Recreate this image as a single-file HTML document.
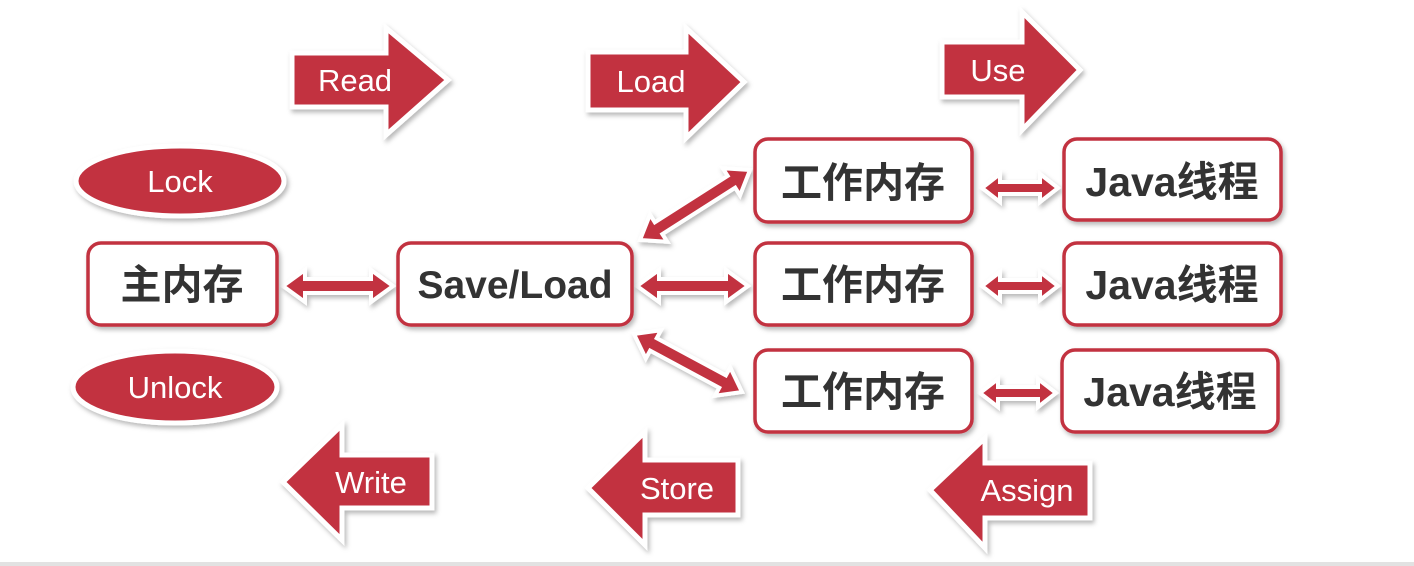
<!DOCTYPE html>
<html><head><meta charset="utf-8"><style>
html,body{margin:0;padding:0;background:#fff;width:1414px;height:566px;overflow:hidden}
svg{display:block}
text{font-family:"Liberation Sans","Noto Sans CJK SC",sans-serif}
</style></head><body>
<svg width="1414" height="566" viewBox="0 0 1414 566" xmlns="http://www.w3.org/2000/svg">
<defs>
<filter id="sh" x="-20%" y="-20%" width="140%" height="140%"><feDropShadow dx="2" dy="3" stdDeviation="2.5" flood-color="#000" flood-opacity="0.28"/></filter>
</defs>
<rect x="0" y="562" width="1414" height="4" fill="#e2e2e2"/>
<g fill="#c2303f" stroke="#fff" stroke-width="5" stroke-linejoin="miter" filter="url(#sh)">
<polygon points="292,53 386,53 386,28 448,80 386,135 386,107 292,107"/>
<polygon points="588,52 686,52 686,28 744,82 686,138 686,110 588,110"/>
<polygon points="942,42 1022,42 1022,12 1080,70 1022,130 1022,97 942,97"/>
<polygon points="432,455 342,455 342,425 283,482 342,540 342,508 432,508"/>
<polygon points="738,460 645,460 645,432 588,488 645,545 645,515 738,515"/>
<polygon points="1090,463 985,463 985,438 930,490 985,548 985,518 1090,518"/>
<ellipse cx="180" cy="181" rx="104" ry="35"/>
<ellipse cx="175" cy="387" rx="102" ry="36"/>
</g>
<g id="dbl" fill="#c2303f" stroke="#fff" stroke-width="4" stroke-linejoin="miter" filter="url(#sh)"></g>
<g fill="#fff" stroke="#c2303f" stroke-width="3.5" filter="url(#sh)">
<rect x="88" y="243" width="189" height="82" rx="13"/>
<rect x="398" y="243" width="234" height="82" rx="13"/>
<rect x="755" y="139" width="217" height="83" rx="13"/>
<rect x="755" y="243" width="217" height="82" rx="13"/>
<rect x="755" y="350" width="217" height="82" rx="13"/>
<rect x="1064" y="139" width="217" height="81" rx="13"/>
<rect x="1064" y="243" width="217" height="82" rx="13"/>
<rect x="1062" y="350" width="216" height="82" rx="13"/>
</g>
<g fill="#fff" font-size="31" text-anchor="middle">
<text x="355" y="91">Read</text>
<text x="651" y="92">Load</text>
<text x="998" y="81">Use</text>
<text x="371" y="493">Write</text>
<text x="677" y="499">Store</text>
<text x="1027" y="501">Assign</text>
<text x="180" y="192">Lock</text>
<text x="175" y="398">Unlock</text>
</g>
<g fill="#333" font-size="41" font-weight="bold" text-anchor="middle">
<text x="182" y="299">主内存</text>
<text x="515" y="298" font-size="39">Save/Load</text>
<text x="863" y="197">工作内存</text>
<text x="863" y="299">工作内存</text>
<text x="863" y="406">工作内存</text>
<text x="1172" y="196">Java线程</text>
<text x="1172" y="299">Java线程</text>
<text x="1170" y="406">Java线程</text>
</g>
</svg>
<script>
(function(){
var g=document.getElementById('dbl');
function d(x1,y1,x2,y2,bw,hw,hl){
 var dx=x2-x1,dy=y2-y1,L=Math.sqrt(dx*dx+dy*dy),ux=dx/L,uy=dy/L,nx=-uy,ny=ux;
 function p(t,s){return (x1+ux*t+nx*s).toFixed(1)+','+(y1+uy*t+ny*s).toFixed(1);}
 var pts=[p(0,0),p(hl,hw),p(hl,bw),p(L-hl,bw),p(L-hl,hw),p(L,0),p(L-hl,-hw),p(L-hl,-bw),p(hl,-bw),p(hl,-hw)];
 var e=document.createElementNS('http://www.w3.org/2000/svg','polygon');
 e.setAttribute('points',pts.join(' '));g.appendChild(e);
}
d(283,286,393,286,7,16,22);
d(637,286,748,286,7,16,22);
d(640,240,750,170,7,16,22);
d(634,334,742,392,7,16,22);
d(982,188,1058,188,6,14,18);
d(982,286,1058,286,6,14,18);
d(980,393,1056,393,6,14,18);
})();
</script>
</body></html>
